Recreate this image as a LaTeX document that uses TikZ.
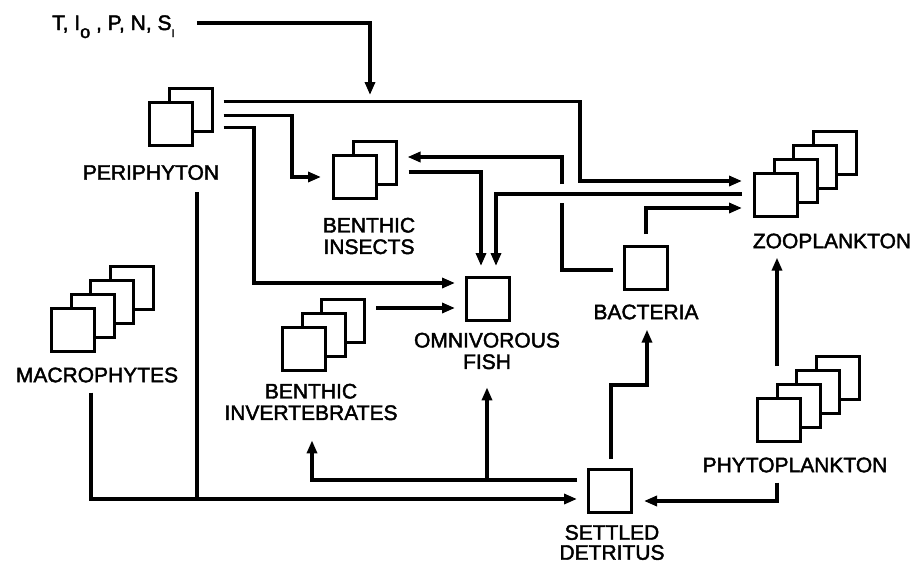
\documentclass[tikz,border=0pt]{standalone}
\usepackage{fontspec}
\setmainfont{Liberation Sans}
\newfontfamily\labfont{Liberation Sans}[FakeBold=2]
\usetikzlibrary{arrows.meta,calc}
\begin{document}
\begin{tikzpicture}[x=1pt,y=-1pt,
  sq/.style={draw, fill=white, line width=3pt, minimum size=43pt, inner sep=0pt},
  lbl/.style={font=\labfont\fontsize{21}{21.5}\selectfont, align=center, inner sep=0pt},
  flow/.style={line width=3.3pt, line join=miter},
  arr/.style={flow, -{Triangle[length=13pt,width=10pt]}}]
\useasboundingbox[fill=white] (0,0) rectangle (916,565);

% ---- squares (back to front) ----
\node[sq] (peri2) at (190.5,110) {};
\node[sq] (peri)  at (171,124) {};

\node[sq] (ins2) at (374.5,163) {};
\node[sq] (ins)  at (355,177) {};

\node[sq] (zoo4) at (834.5,153) {};
\node[sq] (zoo3) at (815,167) {};
\node[sq] (zoo2) at (795.5,181) {};
\node[sq] (zoo)  at (776,195) {};

\node[sq] (mac4) at (131.5,288) {};
\node[sq] (mac3) at (112,302) {};
\node[sq] (mac2) at (92.5,316) {};
\node[sq] (mac)  at (73,330) {};

\node[sq] (inv3) at (343,321) {};
\node[sq] (inv2) at (323.5,335) {};
\node[sq] (inv)  at (304,349) {};

\node[sq] (phy4) at (837.5,378) {};
\node[sq] (phy3) at (818,392) {};
\node[sq] (phy2) at (798.5,406) {};
\node[sq] (phy)  at (779,420) {};

\node[sq] (fish) at (488,299) {};
\node[sq] (bac)  at (646,268) {};
\node[sq] (det)  at (610,491) {};

% ---- labels ----
\node[lbl, anchor=base west] (inp) at (52,30)
  {T, I\raisebox{-8pt}{\fontsize{18}{18}\selectfont o} , P, N, S\raisebox{-7pt}{\fontsize{11}{11}\selectfont I}};
\node[lbl] (peril) at (151,172.5) {PERIPHYTON};
\node[lbl] (insl)  at (369,236) {BENTHIC\\INSECTS};
\node[lbl] (zool)  at (832,241) {ZOOPLANKTON};
\node[lbl] (fishl) at (487,351) {OMNIVOROUS\\FISH};
\node[lbl] (bacl)  at (646,312) {BACTERIA};
\node[lbl] (macl)  at (97,375) {MACROPHYTES};
\node[lbl] (invl)  at (311,402) {BENTHIC\\INVERTEBRATES};
\node[lbl, font=\labfont\fontsize{21}{20}\selectfont] (detl) at (612,542.5) {SETTLED\\DETRITUS};
\node[lbl] (phyl)  at (795,465) {PHYTOPLANKTON};

\coordinate (force) at (370,95);
\coordinate (join) at (197,499);

% ---- connectors ----
\draw[arr] ([xshift=22pt,yshift=7pt]inp.base east) -| (force);
\draw[arr] ($(peri2.east)+(10,-8.5)$) -| (580,140) |- ($(zoo.west)+(-11,-14)$);
\draw[arr] ($(peri2.east)+(10,5.5)$) -| (292,150) |- ($(ins.west)+(-11,0)$);
\draw[arr] ($(peri2.east)+(10,17.5)$) -| (254,200) |- ($(fish.west)+(-10,-16)$);
\draw[flow] ($(peril.south)+(46,12)$) -- (join);
\draw[arr] ($(macl.south)+(-6,10)$) |- ($(det.west)+(-10,8)$);
\draw[arr] ($(det.west)+(-10,-11)$) -| ($(invl.south)+(1,20)$);
\draw[arr] ($(fishl.south |- det.west)+(0,-11)$) -- ($(fishl.south)+(0,18)$);
\draw[arr] ($(det.north)+(1,-9)$) |- (630,385) -| ($(bacl.south)+(1,10)$);
\draw[arr] ($(phyl.south)+(-18,10)$) |- ($(det.east)+(11,10)$);
\draw[arr] ($(phy2.north)+(-21.5,-17)$) -- ($(zool.south)+(-55,9)$);
\draw[arr] ($(bac.north)+(0,-11)$) |- ($(zoo.west)+(-11,13)$);
\draw[flow] ($(bac.west)+(-10,2)$) -| (562,203);
\draw[arr] (562,184) |- ($(ins2.east)+(10,-6)$);
\draw[arr] ($(ins2.east)+(11,9)$) -| ($(fish.north)+(-7,-10)$);
\draw[arr] ($(zoo.west)+(-11,-1)$) -| ($(fish.north)+(8,-10)$);
\draw[arr] ($(inv3.east)+(10,-13)$) -- ($(fish.west)+(-10,9)$);
\end{tikzpicture}
\end{document}
